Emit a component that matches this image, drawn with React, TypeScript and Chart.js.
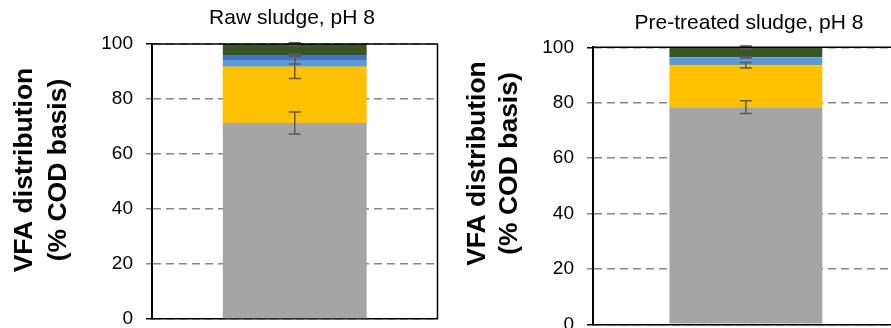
import React, { useEffect, useRef } from "react";
import { Chart, registerables } from "chart.js";

Chart.register(...registerables);

// ---------------- data ----------------
const categories = [""];
const seriesNames = ["VFA 1", "VFA 2", "VFA 3", "VFA 4", "VFA 5"];
const seriesColors = ["#A5A5A5", "#FFC000", "#5B9BD5", "#4472C4", "#375623"];

const rawTitle = "Raw sludge, pH 8";
const rawValues = [71.3, 20.4, 2.5, 1.8, 4.0];
const rawErrors = [4.0, 4.2, 1.5, 0.5, 0.5];

const pretreatedTitle = "Pre-treated sludge, pH 8";
const pretreatedValues = [78.4, 15.1, 2.9, 0, 3.6];
const pretreatedErrors = [2.3, 1.0, 0.3, 0, 0.5];

const yTitleLines = ["VFA distribution", "(% COD basis)"];
const yMin = 0;
const yMax = 100;
const yStep = 20;

const FONT = '"Liberation Sans", Arial, Helvetica, sans-serif';

type PanelCfg = {
  title: string;
  values: number[];
  errors: number[];
  left: number;
  width: number;
  height: number;
  padTop: number;
  padRight: number;
  padBottom: number;
  axisWidth: number;
  barPct: number;
  titleX: number;
  titleY: number;
  yTitleX: number[];
  yTitleY: number;
};

const panels: PanelCfg[] = [
  {
    title: rawTitle,
    values: rawValues,
    errors: rawErrors,
    left: 0,
    width: 445,
    height: 328,
    padTop: 44,
    padRight: 7.5,
    padBottom: 9,
    axisWidth: 152,
    barPct: 0.504,
    titleX: 292,
    titleY: 24,
    yTitleX: [25, 59],
    yTitleY: 170,
  },
  {
    title: pretreatedTitle,
    values: pretreatedValues,
    errors: pretreatedErrors,
    left: 440,
    width: 462,
    height: 328,
    padTop: 47.3,
    padRight: 3.3,
    padBottom: 3.7,
    axisWidth: 153,
    barPct: 0.5,
    titleX: 309,
    titleY: 29,
    yTitleX: [38, 70],
    yTitleY: 163.5,
  },
];

const errorBarPlugin = {
  id: "errorBars",
  afterDatasetsDraw(chart: any, _args: any, opts: any) {
    const errs: number[] = opts.errors || [];
    const y = chart.scales.y;
    const ctx = chart.ctx;
    let cum = 0;
    ctx.save();
    ctx.strokeStyle = "#595959";
    ctx.lineWidth = 1.5;
    chart.data.datasets.forEach((ds: any, i: number) => {
      cum += ds.data[0];
      const e = errs[i] || 0;
      if (e <= 0) return;
      const meta = chart.getDatasetMeta(i);
      const x = meta.data[0].x;
      const yTop = y.getPixelForValue(cum + e);
      const yBot = y.getPixelForValue(cum - e);
      const cap = 6;
      ctx.beginPath();
      ctx.moveTo(x, yTop);
      ctx.lineTo(x, yBot);
      ctx.moveTo(x - cap, yTop);
      ctx.lineTo(x + cap, yTop);
      ctx.moveTo(x - cap, yBot);
      ctx.lineTo(x + cap, yBot);
      ctx.stroke();
    });
    ctx.restore();
  },
};

const decorPlugin = {
  id: "decor",
  afterDraw(chart: any, _args: any, opts: any) {
    const { ctx, chartArea } = chart;
    ctx.save();
    // top & right frame
    ctx.strokeStyle = "#000";
    ctx.lineWidth = 1.5;
    ctx.beginPath();
    ctx.moveTo(chartArea.left, chartArea.top);
    ctx.lineTo(chartArea.right, chartArea.top);
    ctx.lineTo(chartArea.right, chartArea.bottom);
    ctx.stroke();
    // panel title
    ctx.fillStyle = "#000";
    ctx.font = `21px ${FONT}`;
    ctx.textAlign = "center";
    ctx.textBaseline = "alphabetic";
    ctx.fillText(opts.title, opts.titleX, opts.titleY);
    // y axis title
    ctx.font = `bold 26.5px ${FONT}`;
    ctx.textBaseline = "middle";
    yTitleLines.forEach((line: string, i: number) => {
      ctx.save();
      ctx.translate(opts.yTitleX[i], opts.yTitleY);
      ctx.rotate(-Math.PI / 2);
      ctx.fillText(line, 0, 0);
      ctx.restore();
    });
    ctx.restore();
  },
};

function Panel({ cfg }: { cfg: PanelCfg }) {
  const ref = useRef<HTMLCanvasElement | null>(null);
  useEffect(() => {
    if (!ref.current) return;
    const chart = new Chart(ref.current, {
      type: "bar",
      data: {
        labels: categories,
        datasets: seriesNames.map((name, i) => ({
          label: name,
          data: [cfg.values[i]],
          backgroundColor: seriesColors[i],
          borderWidth: 0,
          barPercentage: cfg.barPct,
          categoryPercentage: 1,
        })),
      },
      options: {
        responsive: false,
        animation: false,
        devicePixelRatio: 1,
        layout: {
          padding: { left: 0, top: cfg.padTop, right: cfg.padRight, bottom: cfg.padBottom },
        },
        plugins: {
          legend: { display: false },
          title: { display: false },
          tooltip: { enabled: false },
          errorBars: { errors: cfg.errors },
          decor: {
            title: cfg.title,
            titleX: cfg.titleX,
            titleY: cfg.titleY,
            yTitleX: cfg.yTitleX,
            yTitleY: cfg.yTitleY,
          },
        } as any,
        scales: {
          x: {
            stacked: true,
            ticks: { display: false },
            grid: { display: false, drawTicks: false },
            border: { display: true, color: "#000", width: 1.5 },
            afterFit: (s: any) => {
              s.height = 0;
            },
          },
          y: {
            stacked: true,
            min: yMin,
            max: yMax,
            ticks: {
              stepSize: yStep,
              padding: 13,
              color: "#000",
              font: { family: FONT, size: 19 },
            },
            grid: {
              color: "#868686",
              lineWidth: 1.5,
              tickLength: 6,
              tickWidth: 1.5,
              tickColor: (c: any) =>
                c.tick && (c.tick.value === yMin || c.tick.value === yMax) ? "#000" : "#868686",
              tickBorderDash: [],
            },
            border: { display: true, color: "#000", width: 2, dash: [8, 5] },
            afterFit: (s: any) => {
              s.width = cfg.axisWidth;
              s.paddingTop = 0;
              s.paddingBottom = 0;
            },
          },
        } as any,
      },
      plugins: [errorBarPlugin, decorPlugin],
    });
    return () => chart.destroy();
  }, [cfg]);
  return (
    <canvas
      ref={ref}
      width={cfg.width}
      height={cfg.height}
      style={{
        position: "absolute",
        left: cfg.left,
        top: 0,
        width: cfg.width,
        height: cfg.height,
      }}
    />
  );
}

export default function App() {
  return (
    <div
      style={{
        position: "absolute",
        left: 0,
        top: 0,
        width: 891,
        height: 328,
        overflow: "hidden",
        background: "#fff",
      }}
    >
      {panels.map((p, i) => (
        <Panel key={i} cfg={p} />
      ))}
    </div>
  );
}
